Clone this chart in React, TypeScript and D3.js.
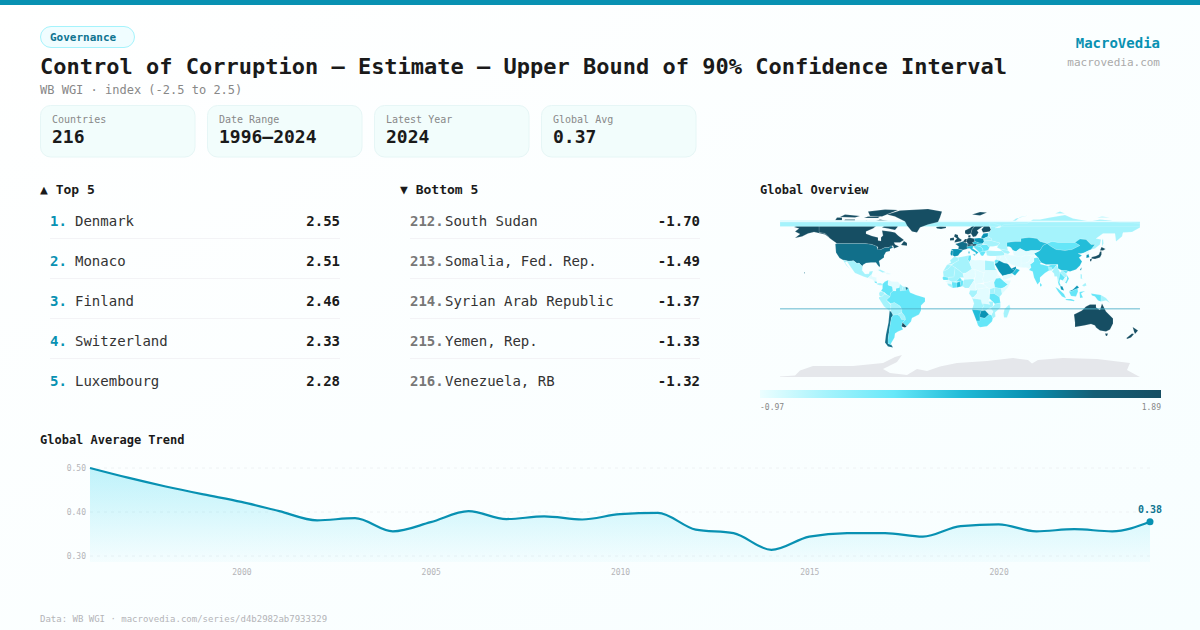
import React, { useEffect, useRef } from "react";
import * as d3 from "d3";

const FONT = "'DejaVu Sans Mono', monospace";

const statLabels = ["Countries", "Date Range", "Latest Year", "Global Avg"];
const statValues = ["216", "1996–2024", "2024", "0.37"];

const topRanks = ["1.", "2.", "3.", "4.", "5."];
const topNames = ["Denmark", "Monaco", "Finland", "Switzerland", "Luxembourg"];
const topValues = [2.55, 2.51, 2.46, 2.33, 2.28];

const bottomRanks = ["212.", "213.", "214.", "215.", "216."];
const bottomNames = ["South Sudan", "Somalia, Fed. Rep.", "Syrian Arab Republic", "Yemen, Rep.", "Venezuela, RB"];
const bottomValues = [-1.7, -1.49, -1.37, -1.33, -1.32];

const trendYears = [
  1996, 1997, 1998, 1999, 2000, 2001, 2002, 2003, 2004, 2005, 2006, 2007, 2008, 2009, 2010,
  2011, 2012, 2013, 2014, 2015, 2016, 2017, 2018, 2019, 2020, 2021, 2022, 2023, 2024,
];
const trendValues = [
  0.5, 0.478, 0.458, 0.44, 0.423, 0.402, 0.381, 0.386, 0.356, 0.377, 0.402, 0.384, 0.39, 0.383, 0.395,
  0.398, 0.36, 0.352, 0.314, 0.344, 0.352, 0.352, 0.344, 0.368, 0.372, 0.356, 0.361, 0.356, 0.378,
];
const trendTicksY = [0.3, 0.4, 0.5];
const trendTicksX = [2000, 2005, 2010, 2015, 2020];

const legendMin = -0.97;
const legendMax = 1.89;
const legendColors = ["#ecfeff", "#a5f3fc", "#67e8f9", "#22bcd8", "#0891b2", "#155e75", "#164e63"];

// value classes
const V0 = -0.9, V1 = -0.49, V2 = 0.0, V3 = 0.45, V4 = 0.9, V5 = 1.25, V6 = 1.89;

type Ring = number[][];

const americas: [string, number, Ring[]][] = [
  ["Canada", V6, [
    [[-141,69.6],[-128,70],[-115,68],[-108,68],[-95,68],[-94,72],[-85,69],[-82,68],[-87,64],[-94,61],[-94,58.8],[-88,56.5],[-82,55],[-82,52],[-79,51.5],[-79,55],[-77,57],[-78,62],[-70,61],[-65,60],[-62,57],[-56,52.5],[-60,50],[-66,50],[-65,48],[-61,46],[-66,44],[-67,47],[-71,45],[-75,45],[-79,43],[-83,42],[-82,45.5],[-88,48],[-95,49],[-123,49],[-130,54],[-135,59],[-141,60]],
    [[-80,73],[-72,71.5],[-62,66],[-65,62.5],[-72,64],[-78,65],[-74,68],[-88,70]],
    [[-117,70],[-105,69],[-105,73],[-115,73]],
    [[-125,72],[-118,72],[-118,75],[-123,75]],
    [[-90,76.5],[-78,76],[-62,82.5],[-75,83],[-92,81]],
    [[-96,74.5],[-82,74.5],[-80,76],[-92,76]],
    [[-120,75.5],[-105,75],[-100,76.5],[-115,78]],
    [[-59,47.5],[-53,46.7],[-53,49.5],[-56,51.5]],
  ]],
  ["United States", V5, [
    [[-124.7,48.4],[-123,49],[-95,49],[-88,48],[-83,46],[-82.5,43],[-79,43],[-75,45],[-71,45],[-69,47],[-67,45],[-70,43.5],[-70,41.5],[-74,40.5],[-76,37],[-76,35],[-81,31.5],[-80,27],[-80.5,25.2],[-82.7,28],[-84,30],[-89,30],[-94,29.5],[-97.2,27.5],[-97.5,25.9],[-101,29.5],[-103,29],[-106.5,31.8],[-111,31.3],[-117,32.5],[-120.5,34.5],[-124,40]],
    [[-156,20.5],[-155,19.5],[-155.5,19],[-156,19.5]],
  ]],
  ["Alaska", V6, [[[-141,69.6],[-141,60],[-135,59],[-131,55],[-135,58],[-146,60.5],[-152,59],[-158,56],[-165,54.5],[-160,58.5],[-165,61],[-161,64],[-166,65.5],[-163,67],[-166,68.5],[-156,71]]]],
  ["Mexico", V1, [[[-117,32.5],[-111,31.3],[-106.5,31.8],[-103,29],[-101,29.5],[-97.5,25.9],[-97.8,22],[-95,18.5],[-91,18.7],[-90.5,21],[-87,21.4],[-88.3,18],[-92,14.6],[-96,15.8],[-105,19.5],[-109,25],[-113,31],[-115,30],[-110,23],[-114,27.5]]]],
  ["Central America", V0, [[[-92,14.6],[-88.3,18],[-88,16],[-83.5,15],[-83.5,11],[-85.5,11],[-87.5,13],[-90,13.8]]]],
  ["Costa Rica", V2, [[[-85.7,11],[-83.6,11],[-82.7,9],[-85,9.7]]]],
  ["Panama", V1, [[[-82.7,9.3],[-79.5,9.5],[-77.4,8.6],[-78,7.3],[-80.5,7.3],[-82.9,8]]]],
  ["Cuba", V1, [[[-85,22],[-80,23],[-74.2,20.2],[-77.7,19.9],[-82,22.5]]]],
  ["Hispaniola", V0, [[[-74.4,18.4],[-73,19.9],[-68.5,18.6],[-71,18]]]],
  ["Colombia", V2, [[[-77.5,8.5],[-75,11],[-71.5,12.4],[-72,7.5],[-67.5,6],[-67,1.5],[-69.5,-0.5],[-70,-4.2],[-73,-2.3],[-75.5,0],[-79,1.5],[-77.5,4]]]],
  ["Venezuela", V0, [[[-72,7.5],[-71.5,12.4],[-68,11],[-62,10.7],[-60,8.5],[-61,5],[-64,4],[-64,1.5],[-67,1.5],[-67.5,6]]]],
  ["Guyana", V1, [[[-60,8.5],[-57,6],[-58,2],[-60,1.5],[-61,5]]]],
  ["Suriname", V1, [[[-57,6],[-54.5,5.8],[-54,2.3],[-58,2]]]],
  ["French Guiana", V5, [[[-54.5,5.8],[-51.7,4.5],[-52.5,2.3],[-54,2.3]]]],
  ["Ecuador", V1, [[[-80,1],[-75.5,0],[-75.5,-1.5],[-78.5,-4.5],[-80.5,-3.5],[-81,-1]]]],
  ["Peru", V1, [[[-81,-4.5],[-78.5,-4.5],[-75.5,-1.5],[-73,-2.3],[-70,-4.2],[-73.5,-7.5],[-70.5,-11],[-69,-12.5],[-69.5,-17.5],[-70.4,-18.4],[-76,-14],[-81,-6]]]],
  ["Bolivia", V1, [[[-69.5,-11],[-65.5,-10],[-60,-13.5],[-58,-17],[-58,-20],[-62.5,-22],[-67,-22.8],[-69,-19],[-69.5,-17.5],[-69,-12.5]]]],
  ["Paraguay", V1, [[[-62.5,-22],[-58,-20],[-55,-24],[-54.5,-27],[-58.5,-27],[-60,-24]]]],
  ["Brazil", V2, [[[-60,5],[-60,1.5],[-58,2],[-54,2.3],[-51.7,4.5],[-50,0],[-44,-2.5],[-35,-5.2],[-35,-9],[-39,-13],[-39,-18],[-41,-22],[-48,-25.5],[-49,-29],[-53.5,-34],[-57.5,-30],[-54.5,-27],[-55,-24],[-58,-20],[-58,-17],[-60,-13.5],[-65.5,-10],[-69.5,-11],[-73.5,-7.5],[-70,-4.2],[-69.5,-0.5],[-67,1.5],[-64,1.5],[-64,4]]]],
  ["Chile", V5, [[[-70.4,-18.4],[-69,-19],[-67,-22.8],[-68.5,-25],[-70,-33],[-71,-40],[-72,-47],[-72,-51],[-68.5,-52.5],[-67,-55],[-72,-54],[-75,-50],[-74,-42],[-71.5,-30]]]],
  ["Argentina", V2, [[[-67,-22.8],[-62.5,-22],[-60,-24],[-58.5,-27],[-54.5,-27],[-57.5,-30],[-58.4,-34],[-57,-37],[-62,-39],[-65,-41],[-65.5,-45],[-69,-51],[-68.5,-52.5],[-72,-51],[-72,-47],[-71,-40],[-70,-33],[-68.5,-25]]]],
  ["Uruguay", V6, [[[-58.4,-34],[-57.5,-30],[-53.5,-34],[-55,-35]]]],
];

const africa: [string, number, Ring[]][] = [
  ["Morocco", V1, [[[-13,27.7],[-9,30],[-10,32],[-6,35.8],[-2,35],[-1.5,32],[-5,30],[-8.7,28]]]],
  ["Western Sahara", V1, [[[-17,21],[-13,27.7],[-8.7,27.3],[-12,23.5]]]],
  ["Algeria", V1, [[[-2,35],[8.5,37],[8,33],[9.5,30],[12,23.5],[6,19.5],[3,19],[-4.8,25],[-8.7,27.3],[-5,30],[-1.5,32]]]],
  ["Tunisia", V2, [[[8.5,37],[11,37],[11,33],[9.5,30.5],[8,33]]]],
  ["Libya", V0, [[[11,33],[15,32.3],[20,32.5],[25,32],[25,20],[24,19.5],[15,23],[12,23.5],[9.5,30]]]],
  ["Egypt", V1, [[[25,32],[34,31],[35,24],[37,22],[25,22]]]],
  ["Sudan", V0, [[[25,22],[37,22],[38,18],[36,14],[34,10],[32.5,12],[27,10],[24,10],[22.5,13],[24,19.5],[25,20]]]],
  ["South Sudan", V0, [[[24,10],[27,10],[32.5,12],[34,10],[35,5],[30,3.5],[27,5],[24,8]]]],
  ["Mauritania", V1, [[[-17,21],[-12,23.5],[-8.7,27.3],[-4.8,25],[-6,15.5],[-12,15],[-16.5,16]]]],
  ["Mali", V1, [[[-4.8,25],[3,19],[4,15],[0,15],[-4,11],[-8,10.5],[-12,12.5],[-12,15],[-6,15.5]]]],
  ["Niger", V0, [[[3,19],[6,19.5],[12,23.5],[15,23],[15.5,16],[13.5,13.5],[4,13],[4,15]]]],
  ["Chad", V0, [[[15,23],[24,19.5],[22.5,13],[24,10],[19,9],[15.5,8],[14,12],[15.5,16]]]],
  ["Senegal", V2, [[[-17.5,14.7],[-16.5,16],[-12,15],[-12,12.5],[-16.7,12.4]]]],
  ["Guinea", V0, [[[-15,11],[-12,12.5],[-8,10.5],[-8,8],[-11,9]]]],
  ["Liberia", V1, [[[-13,9],[-11,9],[-8,8],[-7.5,4.5],[-11.5,6.8]]]],
  ["Ivory Coast", V2, [[[-8,10.5],[-3,10],[-3,5],[-7.5,4.5],[-8,8]]]],
  ["Burkina Faso", V2, [[[-4,11],[0,15],[2.3,12],[0,11]]]],
  ["Ghana", V3, [[[-3,10],[0,11],[1,6],[-3,5]]]],
  ["Benin", V2, [[[0,11],[2.3,12],[3.6,11.5],[2.7,6.3],[1,6]]]],
  ["Nigeria", V1, [[[2.7,6.3],[3.6,11.5],[4,13],[13.5,13.5],[14,12],[9,4.5],[5,4.5]]]],
  ["Cameroon", V0, [[[9,4.5],[14,12],[15.5,8],[16,2],[10,2.3]]]],
  ["Central African Rep.", V0, [[[15.5,8],[19,9],[24,8],[27,5],[22,4],[16,3]]]],
  ["Gabon", V1, [[[10,2.3],[16,2],[18,3.5],[17,-1],[14,-4.5],[12,-5],[9,-1]]]],
  ["Dem. Rep. Congo", V0, [[[18,3.5],[22,4],[27,5],[30,3.5],[29,-1],[29.5,-6],[28.5,-9],[30,-12],[27,-11.5],[22,-11],[21,-7],[13,-6],[14,-4.5],[17,-1]]]],
  ["Eritrea", V0, [[[36,14],[38,18],[43,13],[40,14.5]]]],
  ["Ethiopia", V2, [[[34,10],[36,14],[40,14.5],[43,12],[48,8],[44,5],[41,4],[35,5]]]],
  ["Somalia", V0, [[[43,12],[51,12],[48,5],[42,-1.5],[41,4],[44,5],[48,8]]]],
  ["Kenya", V1, [[[35,5],[41,4],[42,-1.5],[39.5,-4.6],[34,-1]]]],
  ["Uganda", V1, [[[30,3.5],[35,5],[34,-1],[29.8,-1.3]]]],
  ["Tanzania", V2, [[[29.8,-1.3],[34,-1],[39.5,-4.6],[40.4,-10.5],[35,-11.5],[29.5,-6]]]],
  ["Angola", V1, [[[12,-5],[13,-6],[21,-7],[22,-11],[24,-13],[22,-16.5],[23,-18],[12,-17],[14,-11]]]],
  ["Zambia", V1, [[[22,-11],[27,-11.5],[30,-12],[28.5,-9],[33,-9],[33,-14],[30,-15.5],[26,-18],[23,-18],[22,-16.5],[24,-13]]]],
  ["Mozambique", V1, [[[35,-11.5],[40.4,-10.5],[40.5,-15],[35,-20],[35.5,-24],[32.8,-26],[31.3,-22.4],[33,-19],[30,-15.5],[33,-14]]]],
  ["Zimbabwe", V0, [[[26,-18],[30,-15.5],[33,-19],[31.3,-22.4],[29,-22],[26,-19]]]],
  ["Namibia", V3, [[[12,-17],[23,-18],[25,-17.8],[21,-18.5],[20,-22],[20,-28.5],[16.5,-28.5],[14,-22]]]],
  ["Botswana", V4, [[[21,-18.5],[25,-17.8],[29,-22],[25,-25.7],[20,-25],[20,-22]]]],
  ["South Africa", V2, [[[16.5,-28.5],[20,-28.5],[20,-25],[25,-25.7],[29,-22],[31.3,-22.4],[32.8,-26],[32,-29],[27,-33.8],[20,-34.8],[18,-33]]]],
  ["Madagascar", V1, [[[49.3,-12],[50.4,-15.5],[47,-25],[44,-25],[43.5,-21],[44.5,-16.5]]]],
];

const europe: [string, number, Ring[]][] = [
  ["Iceland", V6, [[[-24,65.5],[-20,66.3],[-14,66],[-14,64.5],[-19,63.4],[-23,64]]]],
  ["United Kingdom", V6, [[[-5.5,50],[1,51.3],[1.7,52.7],[-1,54.5],[-2,56],[-2,57.6],[-5,58.6],[-6,56],[-3,54],[-5,52]]]],
  ["Ireland", V6, [[[-10,52],[-6,52.2],[-6,55],[-10,54.3]]]],
  ["Norway", V6, [[[5,59],[8,58],[11,59],[12,63],[15,66.5],[20,69],[29,70],[31,70.3],[25,71],[15,69],[10,64.5],[5,62]],[[12,78],[20,80.5],[27,80],[20,77]]]],
  ["Sweden", V6, [[[11,59],[13,55.5],[16,56.3],[18.5,60],[17,62],[22,65.5],[24,66],[23,68],[20,69],[15,66.5],[12,63]]]],
  ["Finland", V6, [[[23,60],[30,61],[31,63],[29,67],[29,70],[25,69],[23,68],[24,66],[21.5,63]]]],
  ["Denmark", V6, [[[8.2,55],[10.5,55],[10.5,57.5],[8.2,57]]]],
  ["Germany", V6, [[[6,51],[7,53.5],[9,54.8],[14,54],[15,51],[12.5,50],[13.7,48.6],[10,47.5],[7.6,47.6],[8,49]]]],
  ["Benelux", V6, [[[2.6,51],[4,52],[5,53.4],[7,53.5],[6,51],[5.8,49.6]]]],
  ["France", V5, [[[-1.8,43.4],[3,42.5],[7.5,43.8],[7,46],[7.6,47.6],[8,49],[5.8,49.6],[2.6,51],[-1.5,49.5],[-4.7,48.4],[-1.2,46]]]],
  ["Spain", V4, [[[-9,43.5],[-1.8,43.4],[3,42],[0,39.5],[-2,36.8],[-5.5,36],[-7.4,37.2],[-7,42]]]],
  ["Portugal", V4, [[[-9.5,38.8],[-9,37],[-7.4,37.2],[-7,42],[-9,42]]]],
  ["Italy", V3, [[[7,44],[7,46],[12,47],[13.7,45.7],[12.3,44.3],[16,41.8],[18.5,40],[16,38],[15.5,40],[12,42],[10,44]],[[12.5,38],[15.5,38.2],[15,36.7]],[[8.3,41],[9.7,41],[9.6,39],[8.5,39]]]],
  ["Austria", V6, [[[7,46],[7.6,47.6],[10,47.5],[13.7,48.6],[17,48.5],[16,46.8],[13.7,46.5],[12,47]]]],
  ["Poland", V4, [[[14,54],[19,54.5],[23.5,54],[24,50.5],[22.5,49],[19,49.5],[15,51]]]],
  ["Czechia", V3, [[[12.5,50],[15,51],[19,49.5],[22.5,49],[22,47.8],[17,48.5],[13.7,48.6]]]],
  ["Hungary", V2, [[[17,48.5],[22,47.8],[20,46],[16,46.8]]]],
  ["Romania", V2, [[[22,47.8],[27,48],[29.5,45],[28,42],[23,41.3],[22.5,44],[20,46]]]],
  ["Balkans", V2, [[[13.7,46.5],[16,46.8],[20,46],[22.5,44],[23,41.3],[19.5,40],[13.7,45.5]]]],
  ["Greece", V2, [[[19.5,40],[23,41.3],[26,41],[23,36.5],[21,37]]]],
  ["Baltics", V4, [[[21,55],[23.5,54],[28,56],[28,59.5],[23.5,59]]]],
  ["Belarus", V1, [[[23.5,54],[24,51.5],[31,52],[32,53.5],[28,56]]]],
  ["Ukraine", V1, [[[24,50.5],[24,51.5],[31,52],[40,49.5],[38,47],[33,46],[30,46],[29.5,45],[27,48],[22.5,49]]]],
  ["Turkey", V1, [[[26,41],[28,42],[36,41.5],[42,41.5],[44.5,39.5],[44.5,37],[36,36.5],[30,36.5],[27,37]]]],
];

const asia: [string, number, Ring[]][] = [
  ["Russia", V1, [
    [[28,56],[32,53.5],[31,52],[40,49.5],[38,47],[37,45],[40,43.5],[48,42],[47,46],[49,46],[47,50],[55,51],[61,51],[61,54],[69,55],[77,54],[80,51],[87,49],[92,51],[98,50],[106,50],[115,50],[120,52],[120,53.5],[126,53],[131,48],[135,48],[131,43],[135,44],[140,48],[141,53],[136,54],[143,59],[155,59],[156,51],[162,56],[163,60],[172,60.5],[180,65],[180,69],[170,70],[160,70],[150,72],[140,73],[130,71],[113,74],[105,77.5],[90,75],[80,73],[73,73],[67,69],[60,69],[54,68.5],[44,68],[40,65],[35,64.5],[41,67],[33,69.5],[29,69.5],[31,63],[30,61],[28,59.5]],
    [[-180,66],[180,66],[180,70.5],[-180,70.5]],
    [[52,71],[56,74],[68,77],[60,75.5],[55,71]],
    [[95,79],[105,79],[100,81]],
    [[137,75],[150,75],[142,76]],
    [[142,46],[143.5,49],[143,54],[142,52]],
  ]],
  ["Wrangel", V0, [[[-180,70.5],[180,70.5],[180,71.5],[-180,72.5]]]],
  ["Greenland", V6, [[[-73,78],[-60,82],[-32,83.6],[-18,81],[-20,75],[-22,70.5],[-32,68],[-40,65],[-43,60],[-48,61],[-53,67],[-55,71],[-65,76]]]],
  ["Kazakhstan", V3, [[[47,50],[55,51],[61,51],[61,54],[69,55],[77,54],[80,51],[87,49],[83,47],[80,42],[71,42],[66,41],[60,44],[56,41],[53,42],[51,45],[49,46],[47,46]]]],
  ["Mongolia", V2, [[[87,49],[92,51],[98,50],[106,50],[115,50],[120,47],[112,43],[105,42],[96,43],[91,46]]]],
  ["China", V3, [[[74,39],[80,42],[83,47],[87,49],[91,46],[96,43],[105,42],[112,43],[120,47],[115,50],[120,53.5],[126,53],[131,48],[135,48],[131,43],[125,40],[121,39],[118,39],[122,37],[119,35],[122,31],[120,27],[116,23],[110,21],[106,22],[102,22],[98,24],[98,28],[92,28],[86,28],[81,30],[79,33],[78,35]]]],
  ["India", V2, [[[74,34.5],[78,35],[79,33],[81,30],[80,28.5],[88,26.5],[92,28],[97,28],[94,24],[92,23],[89,22],[85,19.5],[80,15],[80,11],[77.5,8],[74,15],[72.7,21],[69,22.5],[71,25],[70,28],[74,31]]]],
  ["Bangladesh", V1, [[[88,26],[92,25],[92,22],[89,22]]]],
  ["Pakistan", V0, [[[61,25],[67,24.8],[69,23.5],[71,25],[70,28],[74,31],[74,34.5],[75,37],[71,36],[69,31],[66,29.5],[61,29.5]]]],
  ["Afghanistan", V0, [[[61,29.5],[66,29.5],[69,31],[71,36],[75,37],[66,37.5],[61,35.5]]]],
  ["Iran", V0, [[[44.5,39.5],[48,38.5],[49.5,37.5],[54,37],[61,36],[61,25],[57,26],[51,28],[48.5,30],[46,34],[44.5,37]]]],
  ["Iraq", V0, [[[44.5,37],[46,34],[48.5,30],[47,29],[44,29.5],[39,32],[41,36.5]]]],
  ["Syria", V0, [[[36,36.5],[41,36.5],[39,32],[36,33]]]],
  ["Jordan", V2, [[[36,33],[39,32],[37,29.5],[35,29.5],[34.5,31.5]]]],
  ["Saudi Arabia", V4, [[[35,29],[37,29.5],[39,32],[44,29.5],[47,29],[48.5,28],[51,24.5],[55,22],[52,19],[44,17],[42.7,16.5],[39,21],[35,28]]]],
  ["UAE", V4, [[[51.5,24],[56,26],[56,24],[55,22]]]],
  ["Oman", V3, [[[56,24],[59.8,22.5],[55,17],[52,19],[55,22]]]],
  ["Yemen", V0, [[[42.7,16.5],[44,17],[52,19],[53,16],[45,12.7],[43,13]]]],
  ["Central Asia", V0, [[[53,42],[56,41],[60,44],[66,41],[71,42],[80,42],[74,39],[75,37],[66,37.5],[61,35.5],[54,37],[53,40]]]],
  ["Caucasus", V1, [[[40,43.5],[48,42],[50,40],[48,38.5],[44.5,39.5],[42,41.5]]]],
  ["South Korea", V4, [[[126.3,34.5],[129.4,35.3],[128.5,38.5],[126.5,37.7]]]],
  ["North Korea", V0, [[[124.5,40],[130,42.5],[128.5,38.5],[126.5,37.7],[125,38]]]],
  ["Japan", V6, [[[131,34],[135,33.5],[140,35],[141.5,38],[141.5,41],[140,41],[139,38],[136,36.5],[132,35.5]],[[140,42],[141.5,45.5],[145.5,43.5],[143,42]],[[130,33.5],[132,33.5],[131,31],[130,31.5]]]],
  ["Taiwan", V4, [[[120,23],[121.8,25.2],[121,22]]]],
  ["Myanmar", V1, [[[92,21],[94,24],[97,28],[98,24],[100,20],[99,14],[98,10],[97,16],[94.5,16],[94,19]]]],
  ["Thailand", V2, [[[100,20],[102,18],[105,15],[103,12],[100,13],[99.5,10],[101,6.5],[99,7],[98,10],[99,14]]]],
  ["Laos", V1, [[[102,22],[106,19],[107,16],[105,15],[102,18],[100,20]]]],
  ["Vietnam", V2, [[[102,22],[106,22],[108,21],[106,19],[109,14],[106.5,9],[105,10],[107,14],[107,16],[106,19]]]],
  ["Cambodia", V0, [[[103,12],[105,15],[107,14],[106,11],[104,10.5]]]],
  ["Malaysia", V4, [[[100.2,6.5],[102.5,6],[104,2],[101,3]],[[109.5,1.5],[113,3],[117,7],[119,5],[117.5,4],[115,3],[112,1.5]]]],
  ["Indonesia", V2, [[[109,1],[112,1.5],[115,3],[117.5,4],[118,1],[116,-4],[111,-3.5]],[[95.3,5.5],[98,4],[104,-1.5],[106,-5.8],[102,-4],[98,1]],[[105.5,-6.5],[111,-6.5],[114.5,-7.8],[114,-8.7],[106,-7.5]],[[119.5,0.5],[125,1.5],[121,-1],[123,-5],[120,-5.5]],[[131,-1],[141,-2.6],[141,-9],[138,-8],[135,-4],[132,-3]]]],
  ["Papua New Guinea", V1, [[[141,-2.6],[146,-5.5],[150,-10.5],[146,-8],[141,-9]]]],
  ["Philippines", V1, [[[120.5,18.5],[122,18],[122,14],[124,13],[120.5,14]],[[122,7],[125.5,9.8],[126.5,7],[124,6]]]],
  ["Sri Lanka", V2, [[[80,9.7],[82,7.5],[81,6],[80,6.2]]]],
  ["Australia", V6, [[[114,-22],[122,-18],[126,-14],[130,-12],[136,-12],[136,-15],[140,-17.5],[142,-11],[146,-19],[153,-26],[153,-31],[150,-37],[146,-39],[140,-38],[136,-35],[135,-33],[131,-31.5],[124,-33],[115,-34.5],[115,-30]],[[145,-41],[148,-41],[147,-43.5],[146,-43.5]]]],
  ["New Zealand", V6, [[[172.7,-34.5],[178,-38],[175,-41.5],[174,-39]],[[172,-41],[174,-41.5],[171,-45],[167,-46.5],[166.5,-45.5]]]],
  ["Fiji", V4, [[[-180,-16],[180,-16],[180,-16.85],[-180,-16.85]]]],
];

const antarctica: Ring = [[-180,-84],[-165,-83],[-160,-78],[-147,-73.5],[-107,-73.5],[-77,-70.5],[-65,-64.5],[-58,-62.5],[-63,-69.5],[-77,-76.5],[-70,-80.5],[-53,-82.5],[-43,-76.5],[-33,-78.5],[-20,-74],[-3,-70.5],[27,-68.5],[53,-65.5],[68,-67.5],[72,-71],[78,-67.5],[103,-65.5],[137,-66.5],[170,-70.5],[167,-77.5],[178,-83.5],[180,-84.5],[-180,-84.5]];

const mapCountries = [...americas, ...africa, ...europe, ...asia];

const toFeature = (rings: Ring[]) => ({
  type: "Feature",
  properties: {},
  geometry: { type: "MultiPolygon", coordinates: rings.map((r) => [[...r, r[0]]]) },
});

export default function App() {
  const yAxisRef = useRef<SVGGElement>(null);
  const xAxisRef = useRef<SVGGElement>(null);

  const x = d3.scaleLinear().domain([1996, 2024]).range([90, 1150]);
  const y = d3.scaleLinear().domain([0.3, 0.5]).range([556, 468]);

  const line = d3
    .line<number>()
    .x((_, i) => x(trendYears[i]))
    .y((d) => y(d))
    .curve(d3.curveMonotoneX);
  const area = d3
    .area<number>()
    .x((_, i) => x(trendYears[i]))
    .y0(562)
    .y1((d) => y(d))
    .curve(d3.curveMonotoneX);

  // planar on purpose, the rings are not cut at the antimeridian
  const projection = d3.geoIdentity().reflectY(true).scale(1).translate([960, 292.5]);
  const geoPath = d3.geoPath(projection as any);

  const legendDomain = legendColors.map(
    (_, i) => legendMin + ((legendMax - legendMin) * i) / (legendColors.length - 1)
  );
  const color = d3.scaleLinear<string>().domain(legendDomain).range(legendColors).clamp(true);

  useEffect(() => {
    const yAxis = d3.axisLeft(y).tickValues(trendTicksY).tickFormat(d3.format(".2f")).tickSize(0).tickPadding(4);
    const xAxis = d3.axisBottom(x).tickValues(trendTicksX).tickFormat(d3.format("d")).tickSize(0).tickPadding(9);
    const style = (g: any) => {
      g.select(".domain").remove();
      g.selectAll("text").attr("fill", "#b4b4b8").attr("font-size", 8).attr("font-family", FONT);
    };
    d3.select(yAxisRef.current).call(yAxis as any).call(style);
    d3.select(xAxisRef.current).call(xAxis as any).call(style);
  }, []);

  const mono = { fontFamily: FONT };

  return (
    <svg
      width={1200}
      height={630}
      style={{ position: "absolute", left: 0, top: 0, ...mono }}
    >
      <defs>
        <linearGradient id="page" x1="0" y1="0" x2="1" y2="1">
          <stop offset="0%" stopColor="#ffffff" />
          <stop offset="100%" stopColor="#f7feff" />
        </linearGradient>
        <linearGradient id="trendFill" x1="0" y1="0" x2="0" y2="1">
          <stop offset="0%" stopColor="#22d3ee" stopOpacity={0.28} />
          <stop offset="100%" stopColor="#22d3ee" stopOpacity={0.03} />
        </linearGradient>
        <linearGradient id="legend" x1="0" y1="0" x2="1" y2="0">
          {legendColors.map((c, i) => (
            <stop key={c} offset={`${(i / (legendColors.length - 1)) * 100}%`} stopColor={c} />
          ))}
        </linearGradient>
      </defs>

      <rect width={1200} height={630} fill="url(#page)" />
      <rect width={1200} height={5} fill="#0891b2" />

      {/* header */}
      <rect x={40.5} y={26.5} width={94} height={21} rx={10.5} fill="#f0fdff" stroke="#a5f3fc" />
      <text x={50} y={41} fontSize={11} fontWeight={700} fill="#0e7490">Governance</text>
      <text x={40} y={74} fontSize={22} fontWeight={700} fill="#1a1a1a">
        Control of Corruption — Estimate — Upper Bound of 90% Confidence Interval
      </text>
      <text x={40} y={94} fontSize={12} fill="#888">WB WGI · index (-2.5 to 2.5)</text>
      <text x={1160} y={48} fontSize={14} fontWeight={700} fill="#0891b2" textAnchor="end">MacroVedia</text>
      <text x={1160} y={66} fontSize={11} fill="#aaa" textAnchor="end">macrovedia.com</text>

      {/* stat cards */}
      {statLabels.map((label, i) => (
        <g key={label} transform={`translate(${40 + i * 167},105)`}>
          <rect x={0.5} y={0.5} width={154.5} height={51.5} rx={10} fill="#f2fdfc" stroke="#e6f6f6" />
          <text x={12} y={18} fontSize={10} fill="#888">{label}</text>
          <text x={12} y={38} fontSize={18} fontWeight={700} fill="#1a1a1a">{statValues[i]}</text>
        </g>
      ))}

      {/* rankings */}
      <text x={40} y={194} fontSize={13} fontWeight={700} fill="#1a1a1a">▲ Top 5</text>
      {topNames.map((name, i) => (
        <g key={name} transform={`translate(0,${i * 40})`}>
          <text x={50} y={226} fontSize={14} fontWeight={700} fill="#0891b2">{topRanks[i]}</text>
          <text x={75} y={226} fontSize={14} fill="#333">{name}</text>
          <text x={340} y={226} fontSize={14} fontWeight={700} fill="#1a1a1a" textAnchor="end">{topValues[i].toFixed(2)}</text>
          {i < 4 && <line x1={50} x2={340} y1={238.5} y2={238.5} stroke="#f3f3f6" />}
        </g>
      ))}

      <text x={400} y={194} fontSize={13} fontWeight={700} fill="#1a1a1a">▼ Bottom 5</text>
      {bottomNames.map((name, i) => (
        <g key={name} transform={`translate(0,${i * 40})`}>
          <text x={410} y={226} fontSize={14} fontWeight={700} fill="#777">{bottomRanks[i]}</text>
          <text x={445} y={226} fontSize={14} fill="#333">{name}</text>
          <text x={700} y={226} fontSize={14} fontWeight={700} fill="#1a1a1a" textAnchor="end">{bottomValues[i].toFixed(2)}</text>
          {i < 4 && <line x1={410} x2={700} y1={238.5} y2={238.5} stroke="#f3f3f6" />}
        </g>
      ))}

      {/* map */}
      <text x={760} y={194} fontSize={12} fontWeight={700} fill="#1a1a1a">Global Overview</text>
      <path d={geoPath(toFeature([antarctica]) as any) ?? ""} fill="#e5e7eb" />
      {mapCountries.map(([name, value, rings]) => (
        <path
          key={name}
          d={geoPath(toFeature(rings) as any) ?? ""}
          fill={color(value)}
          stroke="#ffffff"
          strokeWidth={0.15}
        />
      ))}
      <rect x={760} y={390} width={401} height={8} fill="url(#legend)" />
      <text x={760} y={410} fontSize={8} fill="#888">{legendMin.toFixed(2)}</text>
      <text x={1161} y={410} fontSize={8} fill="#888" textAnchor="end">{legendMax.toFixed(2)}</text>

      {/* trend */}
      <text x={40} y={444} fontSize={12} fontWeight={700} fill="#1a1a1a">Global Average Trend</text>
      {trendTicksY.map((t) => (
        <line key={t} x1={90} x2={1150} y1={y(t)} y2={y(t)} stroke="#eef2f4" strokeDasharray="3 4" />
      ))}
      <path d={area(trendValues) ?? ""} fill="url(#trendFill)" />
      <path d={line(trendValues) ?? ""} fill="none" stroke="#0891b2" strokeWidth={2.2} />
      <g ref={yAxisRef} transform="translate(90,0)" />
      <g ref={xAxisRef} transform="translate(0,560)" />
      <circle cx={x(2024)} cy={y(trendValues[trendValues.length - 1])} r={3.5} fill="#0891b2" />
      <text
        x={x(2024)}
        y={y(trendValues[trendValues.length - 1]) - 9}
        fontSize={10}
        fontWeight={700}
        fill="#0e7490"
        textAnchor="middle"
      >
        {trendValues[trendValues.length - 1].toFixed(2)}
      </text>

      <text x={40} y={622} fontSize={9} fill="#b4b4b8">
        Data: WB WGI · macrovedia.com/series/d4b2982ab7933329
      </text>
    </svg>
  );
}
